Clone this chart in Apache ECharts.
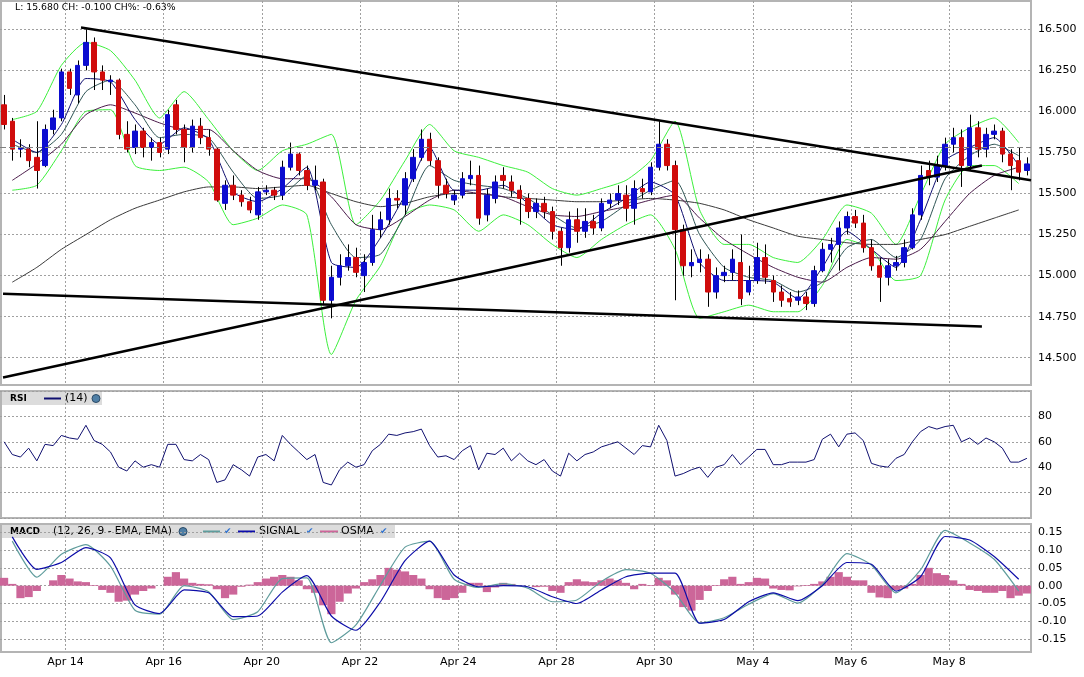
<!DOCTYPE html>
<html>
<head>
<meta charset="utf-8">
<script src="https://cdn.jsdelivr.net/npm/echarts@6/dist/echarts.min.js"></script>
<style>
html, body { margin: 0; padding: 0; background: #fff; }
#chart { width: 1084px; height: 677px; }
</style>
</head>
<body>
<div id="chart"></div>
<script>
// trading days, 6 bars per day; the first 8 bars come before Apr 14
var dayLabels = ['Apr 14', 'Apr 15', 'Apr 16', 'Apr 17', 'Apr 20', 'Apr 21', 'Apr 22', 'Apr 23', 'Apr 24', 'Apr 27',
  'Apr 28', 'Apr 29', 'Apr 30', 'May 1', 'May 4', 'May 5', 'May 6', 'May 7', 'May 8', 'May 11'];
var tickDays = ['Apr 14', 'Apr 16', 'Apr 20', 'Apr 22', 'Apr 24', 'Apr 28', 'Apr 30', 'May 4', 'May 6', 'May 8'];
var barsPerDay = 6;
var firstDayBar = 8;

var lastPrice = 15.68, change = -0.1, changePct = -0.63;
var prevClose = 15.78;
var rsiPeriod = 14;
var macdParams = [12, 26, 9];

var priceTicks = [14.5, 14.75, 15, 15.25, 15.5, 15.75, 16, 16.25, 16.5];
var macdTicks = [-0.15, -0.1, -0.05, 0, 0.05, 0.1, 0.15];

var opens = [16.04, 15.94, 15.77, 15.77, 15.72, 15.67, 15.89, 15.96, 16.24, 16.10,
  16.28, 16.42, 16.24, 16.18, 16.19, 15.86, 15.78, 15.88, 15.78, 15.81,
  15.77, 16.04, 15.89, 15.78, 15.91, 15.84, 15.77, 15.44, 15.55, 15.49,
  15.45, 15.37, 15.51, 15.52, 15.49, 15.66, 15.74, 15.64, 15.55, 15.57,
  14.85, 14.99, 15.06, 15.11, 15.00, 15.08, 15.28, 15.34, 15.47, 15.43,
  15.59, 15.72, 15.83, 15.70, 15.55, 15.46, 15.49, 15.59, 15.61, 15.37,
  15.47, 15.61, 15.57, 15.52, 15.47, 15.39, 15.44, 15.39, 15.27, 15.17,
  15.34, 15.27, 15.33, 15.29, 15.44, 15.46, 15.49, 15.41, 15.53, 15.51,
  15.66, 15.80, 15.67, 15.28, 15.06, 15.08, 15.10, 14.90, 15.00, 15.02,
  15.08, 14.90, 14.97, 15.11, 14.97, 14.90, 14.86, 14.85, 14.87, 14.83,
  15.03, 15.16, 15.19, 15.29, 15.36, 15.32, 15.17, 15.06, 14.99, 15.06,
  15.08, 15.17, 15.37, 15.64, 15.60, 15.67, 15.80, 15.84, 15.67, 15.90,
  15.77, 15.86, 15.88, 15.74, 15.70, 15.64];
var closes = [15.92, 15.77, 15.78, 15.70, 15.64, 15.89, 15.96, 16.24, 16.14, 16.28,
  16.42, 16.24, 16.19, 16.19, 15.86, 15.77, 15.88, 15.78, 15.81, 15.75,
  15.98, 15.89, 15.78, 15.91, 15.84, 15.77, 15.46, 15.55, 15.49, 15.45,
  15.40, 15.51, 15.52, 15.49, 15.66, 15.74, 15.64, 15.55, 15.58, 14.85,
  14.99, 15.06, 15.11, 15.02, 15.08, 15.28, 15.34, 15.47, 15.46, 15.59,
  15.72, 15.83, 15.70, 15.55, 15.50, 15.49, 15.59, 15.61, 15.35, 15.49,
  15.57, 15.58, 15.52, 15.47, 15.39, 15.44, 15.39, 15.27, 15.17, 15.34,
  15.27, 15.33, 15.29, 15.44, 15.46, 15.50, 15.41, 15.53, 15.51, 15.66,
  15.80, 15.67, 15.28, 15.06, 15.08, 15.10, 14.90, 15.00, 15.02, 15.10,
  14.86, 14.97, 15.11, 14.99, 14.90, 14.85, 14.84, 14.87, 14.83, 15.03,
  15.16, 15.19, 15.29, 15.36, 15.32, 15.17, 15.06, 14.99, 15.06, 15.08,
  15.17, 15.37, 15.61, 15.60, 15.67, 15.80, 15.84, 15.67, 15.90, 15.77,
  15.86, 15.88, 15.74, 15.67, 15.63, 15.68];
var highs = [16.10, 15.96, 15.83, 15.80, 15.94, 15.92, 16.01, 16.26, 16.26, 16.31,
  16.50, 16.45, 16.28, 16.22, 16.20, 15.94, 15.92, 15.90, 15.84, 15.84,
  16.01, 16.07, 15.92, 15.95, 15.96, 15.89, 15.78, 15.58, 15.61, 15.52,
  15.48, 15.54, 15.55, 15.54, 15.70, 15.81, 15.75, 15.67, 15.67, 15.59,
  15.06, 15.13, 15.19, 15.17, 15.13, 15.37, 15.39, 15.53, 15.52, 15.63,
  15.77, 15.89, 15.87, 15.72, 15.59, 15.52, 15.63, 15.70, 15.67, 15.53,
  15.61, 15.66, 15.61, 15.55, 15.50, 15.47, 15.48, 15.42, 15.29, 15.39,
  15.41, 15.41, 15.37, 15.47, 15.50, 15.55, 15.55, 15.58, 15.59, 15.69,
  15.94, 15.83, 15.70, 15.31, 15.16, 15.16, 15.13, 15.05, 15.06, 15.16,
  15.25, 15.06, 15.20, 15.19, 15.00, 14.94, 14.90, 14.91, 14.90, 15.06,
  15.20, 15.23, 15.33, 15.39, 15.40, 15.37, 15.22, 15.11, 15.10, 15.12,
  15.22, 15.41, 15.67, 15.70, 15.73, 15.84, 15.90, 15.89, 15.98, 15.94,
  15.90, 15.92, 15.90, 15.77, 15.78, 15.72];
var lows = [15.89, 15.70, 15.72, 15.66, 15.53, 15.66, 15.86, 15.94, 16.10, 16.05,
  16.25, 16.13, 16.13, 16.10, 15.83, 15.75, 15.74, 15.72, 15.70, 15.72,
  15.74, 15.86, 15.69, 15.75, 15.80, 15.73, 15.45, 15.40, 15.46, 15.42,
  15.38, 15.34, 15.49, 15.46, 15.46, 15.64, 15.61, 15.52, 15.52, 14.82,
  14.74, 14.94, 15.03, 14.99, 14.90, 15.06, 15.23, 15.31, 15.41, 15.37,
  15.57, 15.70, 15.67, 15.47, 15.47, 15.43, 15.47, 15.55, 15.31, 15.33,
  15.44, 15.53, 15.48, 15.31, 15.35, 15.35, 15.35, 15.22, 15.06, 15.14,
  15.20, 15.23, 15.25, 15.27, 15.41, 15.43, 15.33, 15.31, 15.47, 15.49,
  15.64, 15.64, 14.85, 15.00, 14.99, 15.02, 14.81, 14.86, 14.96, 14.97,
  14.82, 14.88, 14.95, 14.95, 14.84, 14.81, 14.81, 14.82, 14.79, 14.81,
  15.02, 15.08, 15.03, 15.25, 15.29, 15.14, 15.03, 14.84, 14.94, 15.03,
  15.05, 15.16, 15.34, 15.55, 15.57, 15.64, 15.75, 15.54, 15.64, 15.72,
  15.72, 15.83, 15.69, 15.52, 15.58, 15.61];

// smooth overlays read every 3rd bar, starting at bar 1
var sampleStart = 1, sampleStep = 3;
var bbUpper = [15.95, 16.00, 16.28, 16.42, 16.37, 16.19, 15.96, 16.12, 15.95, 15.76,
  15.64, 15.76, 15.80, 15.86, 15.31, 15.46, 15.70, 15.92, 15.76, 15.72,
  15.67, 15.63, 15.53, 15.49, 15.53, 15.58, 15.70, 15.94, 15.40, 15.19,
  15.19, 15.11, 15.08, 15.22, 15.43, 15.38, 15.19, 15.49, 15.80, 15.90,
  15.96, 15.81];
var bbLower = [15.52, 15.55, 15.76, 16.00, 16.01, 15.67, 15.64, 15.66, 15.57, 15.31,
  15.35, 15.43, 15.37, 14.52, 14.85, 15.06, 15.37, 15.43, 15.40, 15.27,
  15.37, 15.31, 15.19, 15.11, 15.22, 15.31, 15.37, 15.16, 14.74, 14.78,
  14.82, 14.78, 14.78, 14.94, 15.22, 15.16, 14.97, 15.00, 15.46, 15.67,
  15.67, 15.56];
var maFast = [15.83, 15.75, 15.92, 16.20, 16.18, 15.95, 15.80, 15.90, 15.83, 15.51,
  15.45, 15.53, 15.66, 15.08, 15.05, 15.23, 15.49, 15.78, 15.52, 15.52,
  15.55, 15.44, 15.31, 15.28, 15.38, 15.47, 15.57, 15.49, 15.08, 14.97,
  14.97, 14.96, 14.86, 15.05, 15.27, 15.16, 15.05, 15.34, 15.70, 15.78,
  15.84, 15.67];
var maMid = [15.80, 15.75, 15.86, 16.12, 16.19, 16.04, 15.84, 15.86, 15.84, 15.63,
  15.47, 15.49, 15.61, 15.31, 15.11, 15.13, 15.37, 15.67, 15.58, 15.55,
  15.53, 15.47, 15.37, 15.29, 15.33, 15.43, 15.52, 15.58, 15.25, 15.05,
  14.99, 14.97, 14.90, 14.96, 15.17, 15.22, 15.11, 15.22, 15.59, 15.73,
  15.80, 15.73];
var maSlow = [15.58, 15.68, 15.80, 15.98, 16.04, 15.99, 15.93, 15.89, 15.89, 15.76,
  15.64, 15.59, 15.59, 15.48, 15.31, 15.28, 15.36, 15.46, 15.52, 15.50,
  15.48, 15.42, 15.37, 15.36, 15.39, 15.42, 15.46, 15.49, 15.35, 15.22,
  15.13, 15.05, 14.99, 14.96, 15.05, 15.11, 15.10, 15.16, 15.33, 15.50,
  15.61, 15.66];
var maLong = [14.96, 15.05, 15.16, 15.25, 15.34, 15.41, 15.46, 15.51, 15.54, 15.54,
  15.53, 15.54, 15.55, 15.50, 15.45, 15.42, 15.44, 15.48, 15.50, 15.50,
  15.48, 15.47, 15.46, 15.45, 15.45, 15.46, 15.47, 15.46, 15.44, 15.40,
  15.34, 15.29, 15.24, 15.22, 15.20, 15.19, 15.19, 15.22, 15.25, 15.30,
  15.35, 15.40];

// hand-drawn trend lines: [startBar, startPrice, endBar, endPrice]
var trendLines = [
  [9.4, 16.51, 125.5, 15.58],
  [-0.13, 14.38, 119.5, 15.67],
  [-0.13, 14.89, 119.5, 14.69]
];

var rsi = [60, 50, 48, 55, 45, 58, 57, 65, 63, 62,
  73, 61, 58, 52, 40, 37, 45, 40, 42, 40,
  58, 58, 46, 45, 50, 46, 28, 30, 42, 38,
  33, 48, 50, 45, 65, 58, 52, 46, 50, 28,
  26, 38, 44, 40, 42, 53, 58, 66, 65, 67,
  68, 70, 57, 48, 49, 46, 53, 57, 38, 51,
  50, 55, 45, 51, 45, 42, 46, 37, 33, 51,
  45, 50, 52, 56, 58, 60, 55, 50, 57, 56,
  73, 61, 33, 35, 38, 40, 32, 40, 42, 50,
  42, 48, 54, 54, 42, 42, 44, 44, 44, 46,
  62, 66, 56, 66, 67, 61, 43, 41, 40, 47,
  50, 60, 68, 72, 70, 72, 73, 60, 63, 58,
  63, 60, 55, 44, 44, 47];

var macd = [0.125, 0.024, 0.088, 0.115, 0.055, -0.069, -0.08, 0.0, -0.017, -0.095,
  -0.073, 0.02, 0.022, -0.16, -0.11, 0.002, 0.108, 0.125, 0.018, -0.005,
  0.006, -0.007, -0.045, -0.04, 0.012, 0.045, 0.035, -0.02, -0.105, -0.09,
  -0.052, -0.022, -0.049, 0.003, 0.09, 0.058, -0.02, 0.044, 0.155, 0.12,
  0.074, -0.015];
var signal = [0.137, 0.046, 0.065, 0.107, 0.078, -0.054, -0.078, -0.012, -0.02, -0.087,
  -0.085, -0.018, 0.028, -0.085, -0.125, -0.045, 0.07, 0.125, 0.03, -0.003,
  0.0, -0.003, -0.031, -0.05, -0.012, 0.025, 0.035, 0.035, -0.105, -0.095,
  -0.045, -0.02, -0.042, 0.0, 0.065, 0.06, -0.015, 0.025, 0.138, 0.128,
  0.082, 0.018];
var osma = [0.022, 0.005, -0.035, -0.032, -0.015, 0.0, 0.015, 0.03, 0.02, 0.012,
  0.01, 0.002, -0.012, -0.02, -0.045, -0.042, -0.025, -0.015, -0.008, 0.0,
  0.025, 0.038, 0.02, 0.008, 0.005, 0.004, -0.01, -0.035, -0.025, -0.003,
  0.003, 0.01, 0.02, 0.025, 0.03, 0.025, 0.015, -0.01, -0.02, -0.055,
  -0.08, -0.045, -0.022, -0.008, 0.01, 0.018, 0.03, 0.05, 0.045, 0.04,
  0.03, 0.02, -0.01, -0.035, -0.04, -0.035, -0.02, 0.008, 0.008, -0.018,
  -0.005, 0.008, 0.005, 0.0, 0.0, -0.004, -0.003, -0.015, -0.02, 0.01,
  0.018, 0.012, 0.01, 0.015, 0.02, 0.015, 0.008, -0.01, 0.005, 0.002,
  0.022, 0.015, -0.025, -0.06, -0.07, -0.04, -0.015, 0.002, 0.018, 0.025,
  0.005, 0.01, 0.022, 0.02, -0.008, -0.012, -0.013, -0.002, 0.002, 0.005,
  0.012, 0.025, 0.038, 0.025, 0.015, 0.015, -0.02, -0.033, -0.035, -0.012,
  -0.008, 0.005, 0.03, 0.05, 0.035, 0.03, 0.015, 0.005, -0.012, -0.015,
  -0.02, -0.02, -0.015, -0.035, -0.028, -0.022];

var FONT = 'DejaVu Sans';
var n = opens.length;
var cats = [];
for (var i = 0; i < n; i++) cats.push('bar ' + i);

var dayLines = tickDays.map(function (d) {
  return firstDayBar + dayLabels.indexOf(d) * barsPerDay - 0.5;
});

function sampled(values) {
  return values.map(function (v, k) { return [sampleStart + k * sampleStep, v]; });
}

var gridLine = { color: '#a0a0a0', type: [2, 2], width: 1 };
var labelStyle = { color: '#000', fontFamily: FONT, fontSize: 11 };

function dayAxis(grid, withLabels) {
  return {
    type: 'value', gridIndex: grid, position: 'bottom', min: -0.5, max: n - 0.5,
    axisLine: { show: false },
    axisTick: { show: false, customValues: dayLines },
    axisLabel: withLabels ? Object.assign({
      customValues: dayLines, margin: 5,
      formatter: function (v) {
        return dayLabels[Math.round((v + 0.5 - firstDayBar) / barsPerDay)];
      }
    }, labelStyle) : { show: false },
    splitLine: { show: true, lineStyle: gridLine }
  };
}
function barAxis(grid) {
  return { type: 'category', gridIndex: grid, position: 'bottom', data: cats, show: false };
}
function overlay(name, data, color, width) {
  return {
    name: name, type: 'line', xAxisIndex: 1, yAxisIndex: 0, data: sampled(data),
    showSymbol: false, smooth: 0.2, lineStyle: { color: color, width: width || 1 }, z: 2
  };
}

var series = [
  overlay('BB upper', bbUpper, '#3cf03c'),
  overlay('BB lower', bbLower, '#3cf03c'),
  overlay('MA long', maLong, '#3a3a3a'),
  overlay('MA slow', maSlow, '#4a1a4a'),
  overlay('MA mid', maMid, '#2f5555'),
  overlay('MA fast', maFast, '#101070'),
  {
    name: 'wicks', type: 'custom', xAxisIndex: 0, yAxisIndex: 0, z: 3,
    data: lows.map(function (l, i) { return [i, l, highs[i]]; }),
    encode: { x: 0, y: [1, 2] },
    renderItem: function (params, api) {
      var a = api.coord([api.value(0), api.value(1)]);
      var b = api.coord([api.value(0), api.value(2)]);
      var x = Math.round(a[0]) + 0.5;
      return { type: 'line', shape: { x1: x, y1: a[1], x2: x, y2: b[1] },
        style: { stroke: '#000', lineWidth: 1 } };
    }
  },
  {
    name: 'price', type: 'candlestick', xAxisIndex: 0, yAxisIndex: 0, z: 4, barWidth: 5,
    data: opens.map(function (o, i) {
      var c = closes[i];
      return [o, c, Math.min(o, c), Math.max(o, c)];
    }),
    itemStyle: { color: '#0c0cd0', color0: '#d00c0c', borderColor: '#0c0cd0', borderColor0: '#d00c0c',
      borderColorDoji: '#000', borderWidth: 1 },
    markLine: {
      silent: true, symbol: 'none', label: { show: false },
      lineStyle: { color: '#808080', type: [6, 3], width: 1 },
      data: [{ yAxis: prevClose }]
    }
  }
];
trendLines.forEach(function (t, k) {
  series.push({
    name: 'trend ' + k, type: 'line', xAxisIndex: 1, yAxisIndex: 0, z: 6,
    data: [[t[0], t[1]], [t[2], t[3]]], showSymbol: false,
    lineStyle: { color: '#000', width: 2.5 }
  });
});
series.push({
  name: 'RSI', type: 'line', xAxisIndex: 2, yAxisIndex: 1, data: rsi,
  showSymbol: false, lineStyle: { color: '#101070', width: 1 }
});
series.push({
  name: 'OSMA', type: 'bar', xAxisIndex: 4, yAxisIndex: 2, data: osma,
  barWidth: '100%', itemStyle: { color: '#cc6699' }
});
series.push({
  name: 'MACD', type: 'line', xAxisIndex: 5, yAxisIndex: 2, data: sampled(macd),
  showSymbol: false, smooth: 0.2, lineStyle: { color: '#5f9c9c', width: 1.2 }
});
series.push({
  name: 'SIGNAL', type: 'line', xAxisIndex: 5, yAxisIndex: 2, data: sampled(signal),
  showSymbol: false, smooth: 0.2, lineStyle: { color: '#0c0ca8', width: 1.2 }
});

var border = { show: true, borderColor: '#b4b4b4', borderWidth: 2, backgroundColor: 'transparent' };

function check(x, y) {
  return { type: 'text', x: x, y: y, style: { text: '\u2714', fill: '#2a6fd0', font: '9px ' + FONT } };
}
function globe(cx, cy) {
  return { type: 'circle', shape: { cx: cx, cy: cy, r: 4 },
    style: { fill: '#4f7fa6', stroke: '#2b4a66', lineWidth: 1 } };
}
function swatch(x1, x2, y, color) {
  return { type: 'line', shape: { x1: x1, y1: y, x2: x2, y2: y }, style: { stroke: color, lineWidth: 2 } };
}
function txt(x, y, s, font) {
  return { type: 'text', x: x, y: y,
    style: { text: s, fill: '#000', font: (font || '11px') + ' ' + FONT, textVerticalAlign: 'middle' } };
}

var option = {
  animation: false,
  backgroundColor: '#fff',
  grid: [
    Object.assign({ left: -3, right: 53, top: 1, height: 384 }, border),
    Object.assign({ left: -3, right: 53, top: 391, height: 127 }, border),
    Object.assign({ left: -3, right: 53, top: 524, height: 128 }, border)
  ],
  xAxis: [barAxis(0), dayAxis(0, false), barAxis(1), dayAxis(1, false), barAxis(2), dayAxis(2, true)],
  yAxis: [
    {
      type: 'value', gridIndex: 0, position: 'right', min: 14.334, max: 16.672,
      axisLine: { show: false },
      axisTick: { show: false, customValues: priceTicks },
      axisLabel: Object.assign({ customValues: priceTicks, margin: 7,
        formatter: function (v) { return v.toFixed(3); } }, labelStyle),
      splitLine: { show: true, lineStyle: gridLine }
    },
    {
      type: 'value', gridIndex: 1, position: 'right', min: 0, max: 100, interval: 20,
      axisLine: { show: false }, axisTick: { show: false },
      axisLabel: Object.assign({ margin: 7,
        formatter: function (v) { return (v === 0 || v === 100) ? '' : String(v); } }, labelStyle),
      splitLine: { show: true, lineStyle: gridLine }
    },
    {
      type: 'value', gridIndex: 2, position: 'right', min: -0.186, max: 0.173,
      axisLine: { show: false },
      axisTick: { show: false, customValues: macdTicks },
      axisLabel: Object.assign({ customValues: macdTicks, margin: 7,
        formatter: function (v) { return v.toFixed(2); } }, labelStyle),
      splitLine: { show: true, lineStyle: gridLine }
    }
  ],
  graphic: [
    { type: 'line', shape: { x1: 1, y1: 0, x2: 1, y2: 385 }, style: { stroke: '#b4b4b4', lineWidth: 2 } },
    { type: 'line', shape: { x1: 1, y1: 391, x2: 1, y2: 518 }, style: { stroke: '#b4b4b4', lineWidth: 2 } },
    { type: 'line', shape: { x1: 1, y1: 524, x2: 1, y2: 652 }, style: { stroke: '#b4b4b4', lineWidth: 2 } },
    { type: 'text', x: 15, y: 3, style: {
      text: 'L: ' + lastPrice.toFixed(3) + ' CH: ' + change.toFixed(3) + ' CH%: ' + changePct.toFixed(2) + '%',
      fill: '#000', font: '9.3px ' + FONT } },
    { type: 'rect', shape: { x: 2, y: 392, width: 100, height: 13 }, style: { fill: '#dcdcdc' } },
    txt(10, 398.5, 'RSI', 'bold 9px'),
    swatch(44, 61, 398.5, '#101070'),
    txt(65, 398.5, '(' + rsiPeriod + ')'),
    globe(96, 398.5),
    { type: 'rect', shape: { x: 2, y: 525, width: 393, height: 13 }, style: { fill: '#dcdcdc' } },
    txt(10, 531.5, 'MACD', 'bold 9px'),
    txt(53, 531.5, '(' + macdParams.join(', ') + ' - EMA, EMA)', '10.6px'),
    globe(183, 531.5),
    swatch(203, 220, 531.5, '#5f9c9c'),
    check(224, 527),
    swatch(238, 255, 531.5, '#0c0ca8'),
    txt(259, 531.5, 'SIGNAL'),
    check(306, 527),
    swatch(320, 338, 531.5, '#cc6699'),
    txt(341, 531.5, 'OSMA'),
    check(380, 527)
  ],
  series: series
};

var chart = echarts.init(document.getElementById('chart'));
chart.setOption(option);
</script>
</body>
</html>
